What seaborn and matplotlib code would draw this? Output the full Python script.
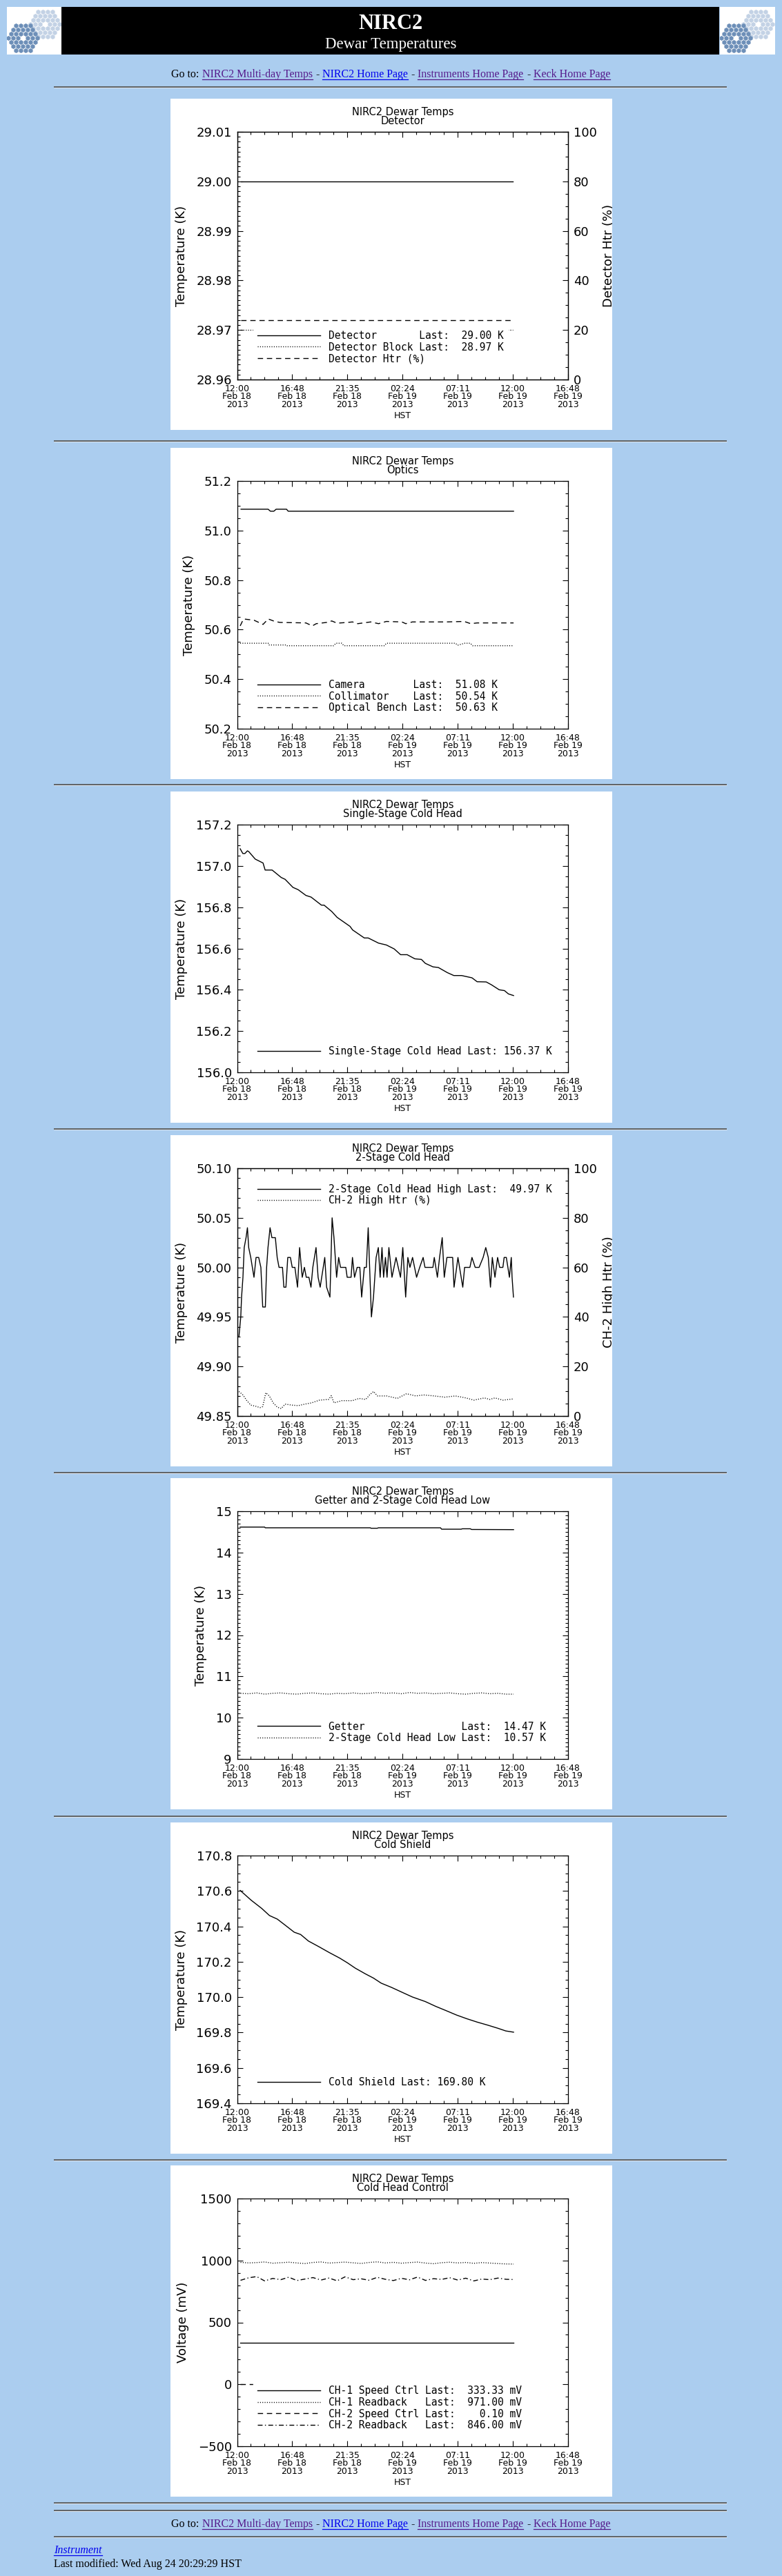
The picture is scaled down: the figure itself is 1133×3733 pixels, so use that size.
import numpy as np
import matplotlib
matplotlib.use("Agg")
import matplotlib.pyplot as plt
import seaborn as sns
from matplotlib.patches import Rectangle
from matplotlib.ticker import MultipleLocator
from matplotlib.transforms import Bbox

plt.rcParams["font.family"] = ["DejaVu Sans"]

W, H = 1133, 3733
BG = "#abcdef"
VISITED = "#551a8b"
LINK = "#0000ee"
DOT = (0, (0.8, 1.6))
DASH = (0, (5.5, 4))
DASHDOT = (0, (5, 2.5, 1, 2.5))

# time axis: hours after 12:00 HST, Feb 18 2013
tick_hours = [0, 4.8, 9.6, 14.4, 19.2, 24.0, 28.8]
tick_times = ["12:00", "16:48", "21:35", "02:24", "07:11", "12:00", "16:48"]
tick_days = ["Feb 18", "Feb 18", "Feb 18", "Feb 19", "Feb 19", "Feb 19", "Feb 19"]
tick_year = "2013"

# detector
det_t = [0.34, 24.0]
det_k = [29.00, 29.00]
block_t = [0.34, 24.0]
block_k = [28.97, 28.97]
det_htr_t = [0.34, 23.94]
det_htr_pct = [24.0, 24.0]
det_labels = ["Detector       Last:  29.00 K",
              "Detector Block Last:  28.97 K",
              "Detector Htr (%)"]

# optics
camera_t = [0.34, 2.70, 2.90, 3.20, 3.40, 4.30, 4.45, 24.06]
camera_k = [51.086, 51.086, 51.078, 51.078, 51.086, 51.086, 51.078, 51.078]
collim_t = [0.27, 2.70, 2.75, 4.30, 4.35, 8.40, 8.60, 9.10, 9.30, 12.80, 13.00,
            19.00, 19.20, 19.80, 20.30, 20.50, 24.06]
collim_k = [50.545, 50.545, 50.538, 50.538, 50.535, 50.535, 50.545, 50.545, 50.535,
            50.535, 50.545, 50.545, 50.537, 50.545, 50.545, 50.535, 50.535]
bench_t = [0.27, 0.56, 1.47, 2.26, 2.71, 3.28, 3.73, 5.99, 6.55, 6.89, 7.79, 8.24,
           8.70, 9.60, 10.05, 10.50, 11.63, 12.31, 12.99, 14.34, 14.68, 15.25,
           18.18, 19.76, 20.33, 20.89, 24.06]
bench_k = [50.615, 50.643, 50.638, 50.621, 50.643, 50.633, 50.629, 50.627, 50.615,
           50.624, 50.629, 50.635, 50.626, 50.629, 50.631, 50.624, 50.631, 50.624,
           50.633, 50.631, 50.624, 50.631, 50.631, 50.633, 50.624, 50.627, 50.627]
optics_labels = ["Camera        Last:  51.08 K",
                 "Collimator    Last:  50.54 K",
                 "Optical Bench Last:  50.63 K"]

# single-stage cold head
single_t = [0.27, 0.50, 0.68, 0.90, 1.02, 1.58, 2.26, 2.44, 3.05, 3.84,
            4.18, 4.86, 5.31, 5.99, 6.44, 7.34, 7.57, 8.24, 8.70, 9.83,
            10.05, 11.07, 11.41, 12.31, 12.99, 13.67, 14.23, 14.80, 15.47, 16.04,
            16.38, 17.05, 17.51, 18.30, 18.86, 19.54, 20.44, 20.89, 21.68, 22.14,
            22.81, 23.27, 23.61, 24.06]
single_k = [157.083, 157.060, 157.060, 157.073, 157.069, 157.033, 157.014, 156.980, 156.980, 156.944,
            156.935, 156.896, 156.885, 156.857, 156.849, 156.810, 156.810, 156.779, 156.751, 156.707,
            156.690, 156.651, 156.651, 156.626, 156.617, 156.598, 156.570, 156.570, 156.550, 156.547,
            156.528, 156.511, 156.508, 156.483, 156.469, 156.469, 156.458, 156.439, 156.438, 156.424,
            156.400, 156.396, 156.380, 156.372]
single_labels = ["Single-Stage Cold Head Last: 156.37 K"]

# 2-stage cold head high
ch2_t = [0.16, 0.32, 0.39, 0.51, 0.62, 0.78, 0.90, 1.01, 1.19, 1.47,
         1.65, 1.88, 2.07, 2.23, 2.46, 2.57, 2.69, 2.87, 3.03, 3.33,
         3.49, 3.65, 3.95, 4.07, 4.25, 4.41, 4.64, 4.80, 5.03, 5.26,
         5.44, 5.67, 5.86, 6.02, 6.25, 6.43, 6.59, 6.87, 7.05, 7.23,
         7.63, 7.79, 8.08, 8.27, 8.43, 8.66, 8.84, 9.00, 9.46, 9.58,
         9.92, 10.04, 10.22, 10.45, 10.68, 10.84, 11.07, 11.25, 11.41, 11.69,
         11.87, 12.10, 12.29, 12.45, 12.61, 12.75, 12.91, 13.05, 13.21, 13.48,
         13.83, 14.22, 14.42, 14.67, 14.86, 15.04, 15.27, 15.62, 15.89, 16.19,
         16.35, 17.04, 17.16, 17.43, 17.62, 17.85, 18.03, 18.26, 18.76, 18.88,
         19.22, 19.64, 19.80, 20.26, 20.44, 20.72, 21.06, 21.41, 21.64, 21.86,
         22.05, 22.21, 22.44, 22.67, 22.85, 23.13, 23.24, 23.43, 23.70, 23.86,
         23.93, 24.05]
ch2_k = [49.93, 49.95, 49.97, 49.99, 50.02, 50.03, 50.04, 50.02, 50.01, 49.99,
         50.01, 50.01, 50.00, 49.96, 49.96, 50.00, 50.02, 50.04, 50.03, 50.03,
         50.01, 50.00, 50.00, 49.98, 49.98, 50.01, 50.01, 50.00, 50.00, 49.98,
         50.02, 49.99, 50.00, 49.99, 49.99, 49.98, 50.00, 50.02, 49.99, 49.98,
         50.01, 49.98, 49.97, 50.05, 50.03, 49.99, 50.01, 50.00, 50.00, 49.99,
         49.99, 50.01, 49.99, 50.00, 50.00, 49.97, 50.00, 50.00, 50.04, 49.95,
         49.97, 50.01, 50.02, 49.99, 50.02, 49.99, 50.01, 49.99, 50.02, 49.99,
         50.01, 49.99, 50.02, 49.97, 50.01, 50.00, 50.01, 49.99, 50.00, 50.01,
         50.00, 50.00, 50.01, 49.99, 50.01, 50.03, 49.99, 50.01, 50.01, 49.98,
         50.01, 49.98, 50.00, 50.00, 50.01, 50.00, 50.00, 50.01, 50.02, 50.01,
         49.98, 50.01, 49.99, 50.01, 50.00, 50.00, 50.01, 50.01, 49.99, 50.01,
         49.99, 49.97]
ch2_htr_t = [0.16, 0.51, 0.85, 1.19, 1.65, 2.00, 2.23, 2.50, 2.80, 3.15,
             3.49, 3.84, 4.18, 4.75, 5.33, 5.90, 6.48, 7.17, 7.97, 8.20,
             8.43, 9.12, 10.04, 10.61, 11.19, 11.53, 11.87, 12.22, 13.02, 13.94,
             14.74, 15.55, 16.24, 17.16, 18.08, 18.99, 19.91, 20.60, 21.52, 21.98,
             22.44, 23.13, 24.05]
ch2_htr_pct = [9.9, 8.5, 6.2, 4.4, 3.9, 3.4, 3.8, 9.4, 8.1, 5.3,
               3.6, 3.0, 4.8, 4.4, 4.2, 4.8, 5.3, 6.4, 6.7, 8.2,
               5.3, 6.2, 6.2, 7.1, 6.7, 8.5, 9.9, 8.1, 8.1, 7.1,
               9.0, 8.1, 8.5, 8.1, 7.6, 8.1, 7.3, 6.4, 7.3, 6.7,
               7.3, 6.4, 6.9]
ch2_labels = ["2-Stage Cold Head High Last:  49.97 K",
              "CH-2 High Htr (%)"]

# getter and 2-stage cold head low
getter_t = [0.27, 2.40, 2.45, 11.60, 11.65, 12.20, 12.30, 17.70, 17.80, 19.50,
            19.60, 20.30, 20.40, 24.06]
getter_k = [14.616, 14.616, 14.599, 14.599, 14.588, 14.588, 14.599, 14.599, 14.565, 14.565,
            14.575, 14.575, 14.558, 14.554]
low_t = [0.30, 1.00, 1.70, 2.40, 3.10, 3.80, 4.50, 5.20, 5.90, 6.60,
         7.30, 8.00, 8.70, 9.40, 10.10, 10.80, 11.50, 12.20, 12.90, 13.60,
         14.30, 15.00, 15.70, 16.40, 17.10, 17.80, 18.50, 19.20, 19.90, 20.60,
         21.30, 22.00, 22.70, 23.40, 24.06]
low_k = [10.59, 10.58, 10.60, 10.57, 10.59, 10.60, 10.58, 10.57, 10.59, 10.60,
         10.58, 10.57, 10.59, 10.58, 10.60, 10.58, 10.59, 10.61, 10.59, 10.60,
         10.58, 10.61, 10.59, 10.60, 10.58, 10.59, 10.60, 10.58, 10.57, 10.59,
         10.60, 10.58, 10.59, 10.57, 10.57]
getter_labels = ["Getter                Last:  14.47 K",
                 "2-Stage Cold Head Low Last:  10.57 K"]

# cold shield
shield_t = [0.27, 1.24, 2.15, 2.82, 3.50, 4.18, 4.97, 5.53, 6.21, 7.12,
            8.02, 8.92, 9.60, 10.28, 11.18, 11.86, 12.54, 13.44, 14.34, 15.25,
            16.38, 17.28, 18.18, 19.09, 19.99, 20.89, 21.80, 22.70, 23.38, 24.06]
shield_k = [170.603, 170.547, 170.501, 170.461, 170.441, 170.407, 170.367, 170.354, 170.317, 170.285,
            170.252, 170.221, 170.194, 170.164, 170.131, 170.108, 170.079, 170.055, 170.028, 170.001,
            169.975, 169.948, 169.924, 169.899, 169.878, 169.859, 169.842, 169.824, 169.809, 169.802]
shield_labels = ["Cold Shield Last: 169.80 K"]

# cold head control
speed_t = [0.27, 24.06]
ch1_speed_mv = [333.33, 333.33]
ch2_speed_mv = [0.10, 0.10]
ctrl_t = [0.30, 1.00, 1.70, 2.40, 3.10, 3.80, 4.50, 5.20, 5.90, 6.60,
          7.30, 8.00, 8.70, 9.40, 10.10, 10.80, 11.50, 12.20, 12.90, 13.60,
          14.30, 15.00, 15.70, 16.40, 17.10, 17.80, 18.50, 19.20, 19.90, 20.60,
          21.30, 22.00, 22.70, 23.40, 24.06]
ch1_rb_mv = [985, 980, 983, 988, 978, 982, 986, 980, 975, 984,
             988, 979, 983, 987, 981, 976, 984, 989, 980, 985,
             978, 983, 987, 979, 974, 982, 986, 980, 984, 977,
             983, 979, 975, 972, 971]
ch2_rb_mv = [840, 860, 870, 835, 855, 845, 865, 838, 850, 862,
             842, 858, 836, 868, 845, 852, 840, 864, 848, 838,
             856, 844, 866, 839, 853, 847, 861, 842, 857, 835,
             850, 845, 858, 848, 846]
ctrl_labels = ["CH-1 Speed Ctrl Last:  333.33 mV",
               "CH-1 Readback   Last:  971.00 mV",
               "CH-2 Speed Ctrl Last:    0.10 mV",
               "CH-2 Readback   Last:  846.00 mV"]

# page layout
panel_tops = [143, 649, 1147, 1645, 2142, 2641, 3138]
rule_ys = [126, 639, 1137, 1636, 2134, 2632, 3130, 3627, 3638, 3676]

fig = plt.figure(figsize=(W / 100, H / 100), dpi=100, facecolor=BG)
page = fig.add_axes([0, 0, 1, 1])
page.set_xlim(0, W)
page.set_ylim(H, 0)
page.axis("off")
rend = fig.canvas.get_renderer()


def hex_logo(x0):
    page.add_patch(Rectangle((x0, 10), 80, 69, fc="white", ec="none"))
    clip = Rectangle((x0, 10), 80, 69, transform=page.transData)
    q, r = np.meshgrid(np.arange(-3, 4), np.arange(-3, 4))
    ring = np.maximum(np.maximum(abs(q), abs(r)), abs(q + r))
    keep = (ring >= 1) & (ring <= 3)
    for cx, cy, col in [(x0 + 55, 35, "#c3d2e5"), (x0 + 23, 55, "#6d8fb8")]:
        xs = cx + 7 * (q[keep] + r[keep] / 2)
        ys = cy + 7 * 0.866 * r[keep]
        sc = page.scatter(xs, ys, marker="h", s=26, c=col, linewidths=0)
        sc.set_clip_path(clip)


def goto_line(baseline):
    pieces = [("Go to:", "black", False), ("NIRC2 Multi-day Temps", VISITED, True),
              ("-", "black", False), ("NIRC2 Home Page", LINK, True),
              ("-", "black", False), ("Instruments Home Page", VISITED, True),
              ("-", "black", False), ("Keck Home Page", VISITED, True)]
    items = []
    for s, c, u in pieces:
        t = page.text(0, baseline, s, color=c, fontsize=11.5,
                      family="Liberation Serif", va="baseline")
        items.append((t, t.get_window_extent(rend).width, c, u))
    gap = 4.5
    total = sum(it[1] for it in items) + gap * (len(items) - 1)
    x = 566 - total / 2
    for t, w, c, u in items:
        t.set_x(x)
        if u:
            page.plot([x, x + w], [baseline + 2.5, baseline + 2.5], color=c, lw=0.9)
        x += w + gap


# header
hex_logo(10)
hex_logo(1043)
page.add_patch(Rectangle((89, 10), 953, 69, fc="black", ec="none"))
page.text(566, 41.5, "NIRC2", color="white", fontsize=22, weight="bold",
          family="Liberation Serif", ha="center", va="baseline")
page.text(566, 70, "Dewar Temperatures", color="white", fontsize=16.5,
          family="Liberation Serif", ha="center", va="baseline")
goto_line(112.5)

for top in panel_tops:
    page.add_patch(Rectangle((247, top), 640, 480, fc="white", ec="none"))
page.hlines(rule_ys, 78, 1053, colors="#5a5a5a", lw=1.3)
page.hlines([y + 1.3 for y in rule_ys], 78, 1053, colors="#dfe6ee", lw=0.7)

# footer
goto_line(3662)
t = page.text(78, 3700, "Instrument", color=LINK, fontsize=11.5, style="italic",
              family="Liberation Serif", va="baseline")
w = t.get_window_extent(rend).width
page.plot([78, 78 + w], [3702.5, 3702.5], color=LINK, lw=0.9)
page.text(78, 3720, "Last modified: Wed Aug 24 20:29:29 HST", color="black",
          fontsize=11.5, family="Liberation Serif", va="baseline")


def chart_axes(top):
    left, right = 343.5, 823.0
    y0, y1 = top + 48, top + 407
    return fig.add_axes([left / W, 1 - y1 / H, (right - left) / W, (y1 - y0) / H])


def line(ax, t, v, ls):
    sns.lineplot(x=t, y=v, ax=ax, color="black", lw=1.0, linestyle=ls,
                 estimator=None, errorbar=None, legend=False, sort=False)
    return ax.get_lines()[-1]


def style(ax, subtitle, ylabel, ylo, yhi, major, minor, fmt, right=True):
    ax.set_facecolor("none")
    ax.set_xlim(0, 28.8)
    ax.set_ylim(ylo, yhi)
    ax.set_xticks(tick_hours)
    ax.set_xticklabels([f"{a}\n{b}\n{tick_year}" for a, b in zip(tick_times, tick_days)],
                       linespacing=0.85)
    ax.xaxis.set_minor_locator(MultipleLocator(1.2))
    yt = np.arange(ylo, yhi + major / 2, major)
    ax.set_yticks(yt)
    ax.set_yticklabels([(fmt % v).replace("-", "\u2212") for v in yt])
    ax.yaxis.set_minor_locator(MultipleLocator(minor))
    ax.tick_params(which="both", direction="in", top=True, right=right,
                   width=0.8, color="black")
    ax.tick_params(which="major", length=6)
    ax.tick_params(which="minor", length=3)
    ax.tick_params(axis="x", labelsize=9, pad=5)
    ax.tick_params(axis="y", labelsize=13, pad=5.5)
    for sp in ax.spines.values():
        sp.set_linewidth(0.9)
    ax.set_title("NIRC2 Dewar Temps\n" + subtitle, fontsize=10.5, linespacing=0.85, pad=8)
    ax.set_xlabel("HST", fontsize=9, labelpad=2)
    ax.set_ylabel(ylabel, fontsize=13, labelpad=9)


def style_twin(ax2, ylabel, top):
    ax2.set_ylim(0, 100)
    ax2.set_yticks([0, 20, 40, 60, 80, 100])
    ax2.yaxis.set_minor_locator(MultipleLocator(5))
    ax2.tick_params(which="both", direction="in", right=True, width=0.8,
                    color="black", labelsize=13, pad=5.5)
    ax2.tick_params(which="major", length=6)
    ax2.tick_params(which="minor", length=3)
    for sp in ax2.spines.values():
        sp.set_linewidth(0.9)
    ax2.set_ylabel(ylabel, fontsize=13, labelpad=6)
    ax2.yaxis.label.set_clip_box(Bbox.from_extents(247, H - top - 480, 887, H - top))
    ax2.yaxis.label.set_clip_on(True)


def legend(ax, handles, labels, upper=False):
    kw = dict(prop={"family": "DejaVu Sans Mono", "size": 10.5}, handlelength=6.2,
              handletextpad=0.85, labelspacing=0.12, borderpad=0.4, borderaxespad=0,
              frameon=True, fancybox=False, framealpha=1, facecolor="white",
              edgecolor="white")
    if upper:
        ax.legend(handles, labels, loc="upper left", bbox_to_anchor=(0.05, 0.953), **kw)
    else:
        ax.legend(handles, labels, loc="lower left", bbox_to_anchor=(0.05, 0.047), **kw)


# 1: detector
top = panel_tops[0]
ax = chart_axes(top)
ax2 = ax.twinx()
h = [line(ax, det_t, det_k, "-"), line(ax, block_t, block_k, DOT),
     line(ax2, det_htr_t, det_htr_pct, DASH)]
style(ax, "Detector", "Temperature (K)", 28.96, 29.01, 0.01, 0.001, "%.2f", right=False)
style_twin(ax2, "Detector Htr (%)", top)
legend(ax2, h, det_labels)

# 2: optics
ax = chart_axes(panel_tops[1])
h = [line(ax, camera_t, camera_k, "-"), line(ax, collim_t, collim_k, DOT),
     line(ax, bench_t, bench_k, DASH)]
style(ax, "Optics", "Temperature (K)", 50.2, 51.2, 0.2, 0.05, "%.1f")
legend(ax, h, optics_labels)

# 3: single-stage cold head
ax = chart_axes(panel_tops[2])
h = [line(ax, single_t, single_k, "-")]
style(ax, "Single-Stage Cold Head", "Temperature (K)", 156.0, 157.2, 0.2, 0.05, "%.1f")
legend(ax, h, single_labels)

# 4: 2-stage cold head
top = panel_tops[3]
ax = chart_axes(top)
ax2 = ax.twinx()
h = [line(ax, ch2_t, ch2_k, "-"), line(ax2, ch2_htr_t, ch2_htr_pct, DOT)]
style(ax, "2-Stage Cold Head", "Temperature (K)", 49.85, 50.10, 0.05, 0.01, "%.2f", right=False)
style_twin(ax2, "CH-2 High Htr (%)", top)
legend(ax2, h, ch2_labels, upper=True)

# 5: getter
ax = chart_axes(panel_tops[4])
h = [line(ax, getter_t, getter_k, "-"), line(ax, low_t, low_k, DOT)]
style(ax, "Getter and 2-Stage Cold Head Low", "Temperature (K)", 9, 15, 1, 0.1, "%d")
legend(ax, h, getter_labels)

# 6: cold shield
ax = chart_axes(panel_tops[5])
h = [line(ax, shield_t, shield_k, "-")]
style(ax, "Cold Shield", "Temperature (K)", 169.4, 170.8, 0.2, 0.05, "%.1f")
legend(ax, h, shield_labels)

# 7: cold head control
ax = chart_axes(panel_tops[6])
h = [line(ax, speed_t, ch1_speed_mv, "-"), line(ax, ctrl_t, ch1_rb_mv, DOT),
     line(ax, speed_t, ch2_speed_mv, DASH), line(ax, ctrl_t, ch2_rb_mv, DASHDOT)]
style(ax, "Cold Head Control", "Voltage (mV)", -500, 1500, 500, 100, "%d")
legend(ax, h, ctrl_labels)

fig.savefig("out.png", dpi=100, facecolor=BG)
